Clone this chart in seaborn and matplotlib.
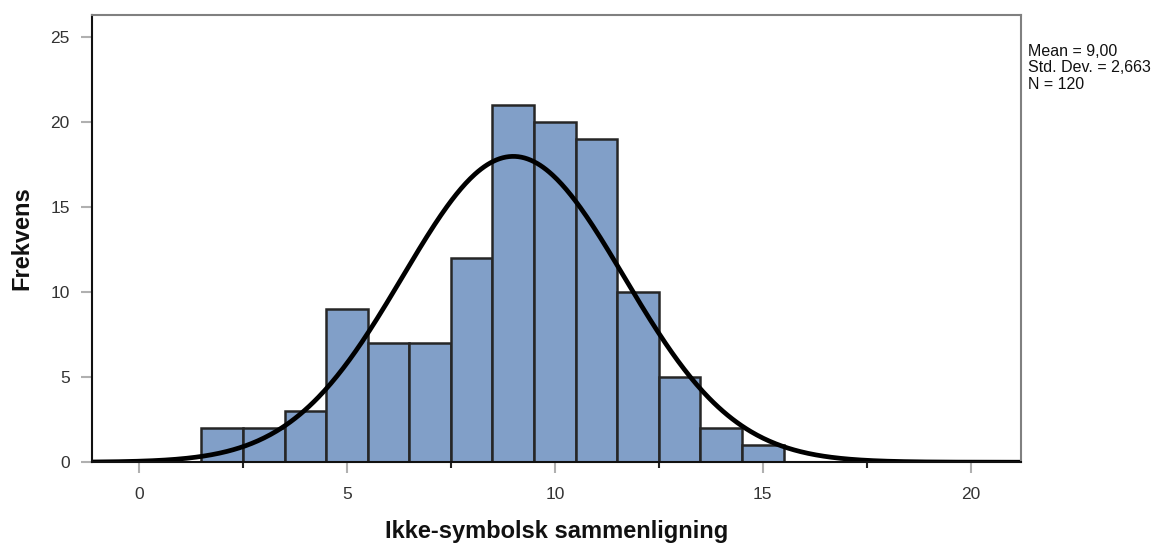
import numpy as np
import pandas as pd
import matplotlib
matplotlib.use("Agg")
import matplotlib.pyplot as plt
import seaborn as sns

# Score values and how many respondents got each score
scores = [2, 3, 4, 5, 6, 7, 8, 9, 10, 11, 12, 13, 14, 15]
counts = [2, 2, 3, 9, 7, 7, 12, 21, 20, 19, 10, 5, 2, 1]

x_ticks = [0, 5, 10, 15, 20]
y_ticks = [0, 5, 10, 15, 20, 25]

sns.set_theme(style="white")
plt.rcParams["font.family"] = ["Liberation Sans", "DejaVu Sans"]

df = pd.DataFrame({"score": scores, "count": counts})
n = int(df["count"].sum())
mean = float(np.average(df["score"], weights=df["count"]))
var = float(np.sum(df["count"] * (df["score"] - mean) ** 2) / (n - 1))
sd = np.sqrt(var)

fig = plt.figure(figsize=(11.56, 5.47), dpi=100)
ax = fig.add_axes([0.0796, 0.155, 0.8033, 0.818])

sns.histplot(data=df, x="score", weights="count", binwidth=1.0,
             binrange=(min(scores) - 0.5, max(scores) + 0.5), ax=ax,
             color="#819fc8", alpha=1.0, edgecolor="#262626", linewidth=1.8)

# Fitted normal curve, scaled to counts per unit bin
xlim = (-1.13, 21.2)
xs = np.linspace(xlim[0], xlim[1], 600)
curve = n * 1.0 / (sd * np.sqrt(2 * np.pi)) * np.exp(-0.5 * ((xs - mean) / sd) ** 2)
sns.lineplot(x=xs, y=curve, ax=ax, color="black", linewidth=3.4)

ax.set_xlim(*xlim)
ax.set_ylim(0, 26.3)
ax.set_xticks(x_ticks)
ax.set_yticks(y_ticks)
ax.set_xticks([2.5, 7.5, 12.5, 17.5], minor=True)
ax.tick_params(axis="both", which="major", length=8, width=1.5, color="#b0b0b0",
               labelsize=12.5, labelcolor="#333333", pad=8, bottom=True, left=True)
ax.tick_params(axis="x", which="major", pad=10)
ax.tick_params(axis="x", which="minor", length=4, width=1.5, color="#222222", bottom=True)

for side in ["left", "bottom"]:
    ax.spines[side].set_color("#111111")
    ax.spines[side].set_linewidth(1.5)
for side in ["top", "right"]:
    ax.spines[side].set_color("#808080")
    ax.spines[side].set_linewidth(1.5)
    ax.spines[side].set_visible(True)

ax.set_xlabel("Ikke-symbolsk sammenligning", fontsize=17, fontweight="bold",
              color="#111111", labelpad=13)
ax.set_ylabel("Frekvens", fontsize=17, fontweight="bold", color="#111111", labelpad=12)

mean_txt = f"{mean:.2f}".replace(".", ",")
sd_txt = f"{sd:.3f}".replace(".", ",")
fig.text(0.889, 0.92,
         f"Mean = {mean_txt}\nStd. Dev. = {sd_txt}\nN = {n}",
         fontsize=11.5, color="#111111", va="top", ha="left", linespacing=1.12)

fig.savefig("out.png", dpi=100)
